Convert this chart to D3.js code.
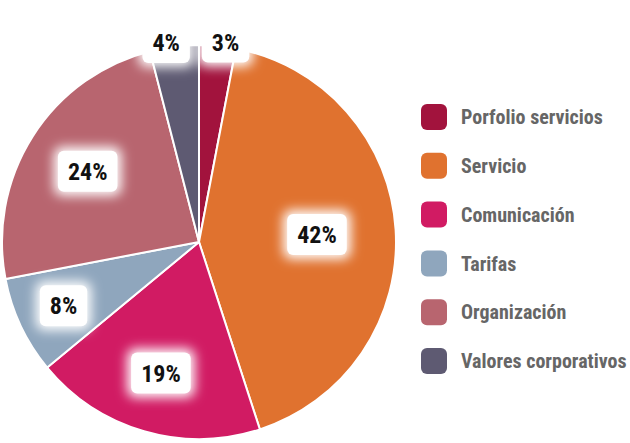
<!DOCTYPE html>
<html>
<head>
<meta charset="utf-8">
<script src="https://cdn.jsdelivr.net/npm/d3@7"></script>
<style>
  body { margin: 0; background: #fff; }
  svg text { font-family: "Roboto Condensed", "Liberation Sans Narrow", "DejaVu Sans Condensed", Roboto, sans-serif; font-stretch: condensed; font-weight: bold; }
</style>
</head>
<body>
<svg></svg>
<script>
// Data
let categories = ["Porfolio servicios", "Servicio", "Comunicación", "Tarifas", "Organización", "Valores corporativos"];
let values = [3, 42, 19, 8, 24, 4];
let colors = ["#a2133d", "#e0722f", "#d11b63", "#8fa6bd", "#b8656f", "#5e5a72"];

let width = 630;
let height = 443;
let cx = 199;
let cy = 242;
let radius = 197;

let svg = d3.select("svg").attr("width", width).attr("height", height);

// glow filter for the label boxes
let defs = svg.append("defs");
defs.append("filter")
  .attr("id", "glow")
  .attr("x", "-50%").attr("y", "-50%").attr("width", "200%").attr("height", "200%")
  .append("feGaussianBlur")
  .attr("stdDeviation", 6);

let items = categories.map((c, i) => ({ name: c, value: values[i], color: colors[i] }));

let pie = d3.pie().sort(null).value((d) => d.value);
let arcs = pie(items);
let total = d3.sum(values);

let arc = d3.arc().innerRadius(0).outerRadius(radius);

let g = svg.append("g").attr("transform", "translate(" + cx + "," + cy + ")");

g.selectAll("path")
  .data(arcs)
  .enter()
  .append("path")
  .attr("d", arc)
  .attr("fill", (d) => d.data.color)
  .attr("stroke", "#fff")
  .attr("stroke-width", 2)
  .attr("stroke-linejoin", "round");

// label radius: bigger slices keep their label nearer the centre, tiny ones sit on the rim
let labelScale = d3.scaleSqrt().domain([0.08, 0.42]).range([0.76, 0.6]).clamp(true);

let labels = arcs.map((d) => {
  let share = d.data.value / total;
  let mid = (d.startAngle + d.endAngle) / 2;
  let r = share < 0.05 ? radius + 4 : radius * labelScale(share);
  return { d: d, x: Math.sin(mid) * r, y: -Math.cos(mid) * r, outside: share < 0.05 };
});

let labelG = g.append("g");
let boxH = 41;

let lg = labelG.selectAll("g")
  .data(labels)
  .enter()
  .append("g");

let txt = lg.append("text")
  .attr("text-anchor", "middle")
  .attr("dy", "0.36em")
  .attr("font-size", 24)
  .attr("fill", "#111")
  .text((l) => l.d.data.value + "%");

txt.each(function (l) {
  l.w = this.getComputedTextLength() + 20;
});

// push apart rim labels that collide
let rim = labels.filter((l) => l.outside).sort((a, b) => a.x - b.x);
for (let i = 1; i < rim.length; i++) {
  let a = rim[i - 1], b = rim[i];
  let need = a.w / 2 + b.w / 2 + 12 - (b.x - a.x);
  if (need > 0 && Math.abs(a.y - b.y) < boxH) {
    a.x -= need / 2;
    b.x += need / 2;
  }
}

lg.attr("transform", (l) => "translate(" + l.x + "," + l.y + ")");

lg.insert("rect", "text")
  .attr("x", (l) => -l.w / 2 - 4)
  .attr("y", -boxH / 2 - 4)
  .attr("width", (l) => l.w + 8)
  .attr("height", boxH + 8)
  .attr("rx", 8)
  .attr("fill", "#fff")
  .attr("filter", "url(#glow)");

lg.insert("rect", "text")
  .attr("x", (l) => -l.w / 2)
  .attr("y", -boxH / 2)
  .attr("width", (l) => l.w)
  .attr("height", boxH)
  .attr("rx", 6)
  .attr("fill", "#fff");

// Legend
let legendY = d3.scalePoint().domain(categories).range([117, 361]);

let legend = svg.append("g")
  .selectAll("g")
  .data(items)
  .enter()
  .append("g")
  .attr("transform", (d) => "translate(421," + legendY(d.name) + ")");

legend.append("rect")
  .attr("x", 0)
  .attr("y", -13)
  .attr("width", 26)
  .attr("height", 26)
  .attr("rx", 6)
  .attr("fill", (d) => d.color);

legend.append("text")
  .attr("x", 40)
  .attr("dy", "0.36em")
  .attr("font-size", 20)
  .attr("fill", "#666")
  .text((d) => d.name);
</script>
</body>
</html>
